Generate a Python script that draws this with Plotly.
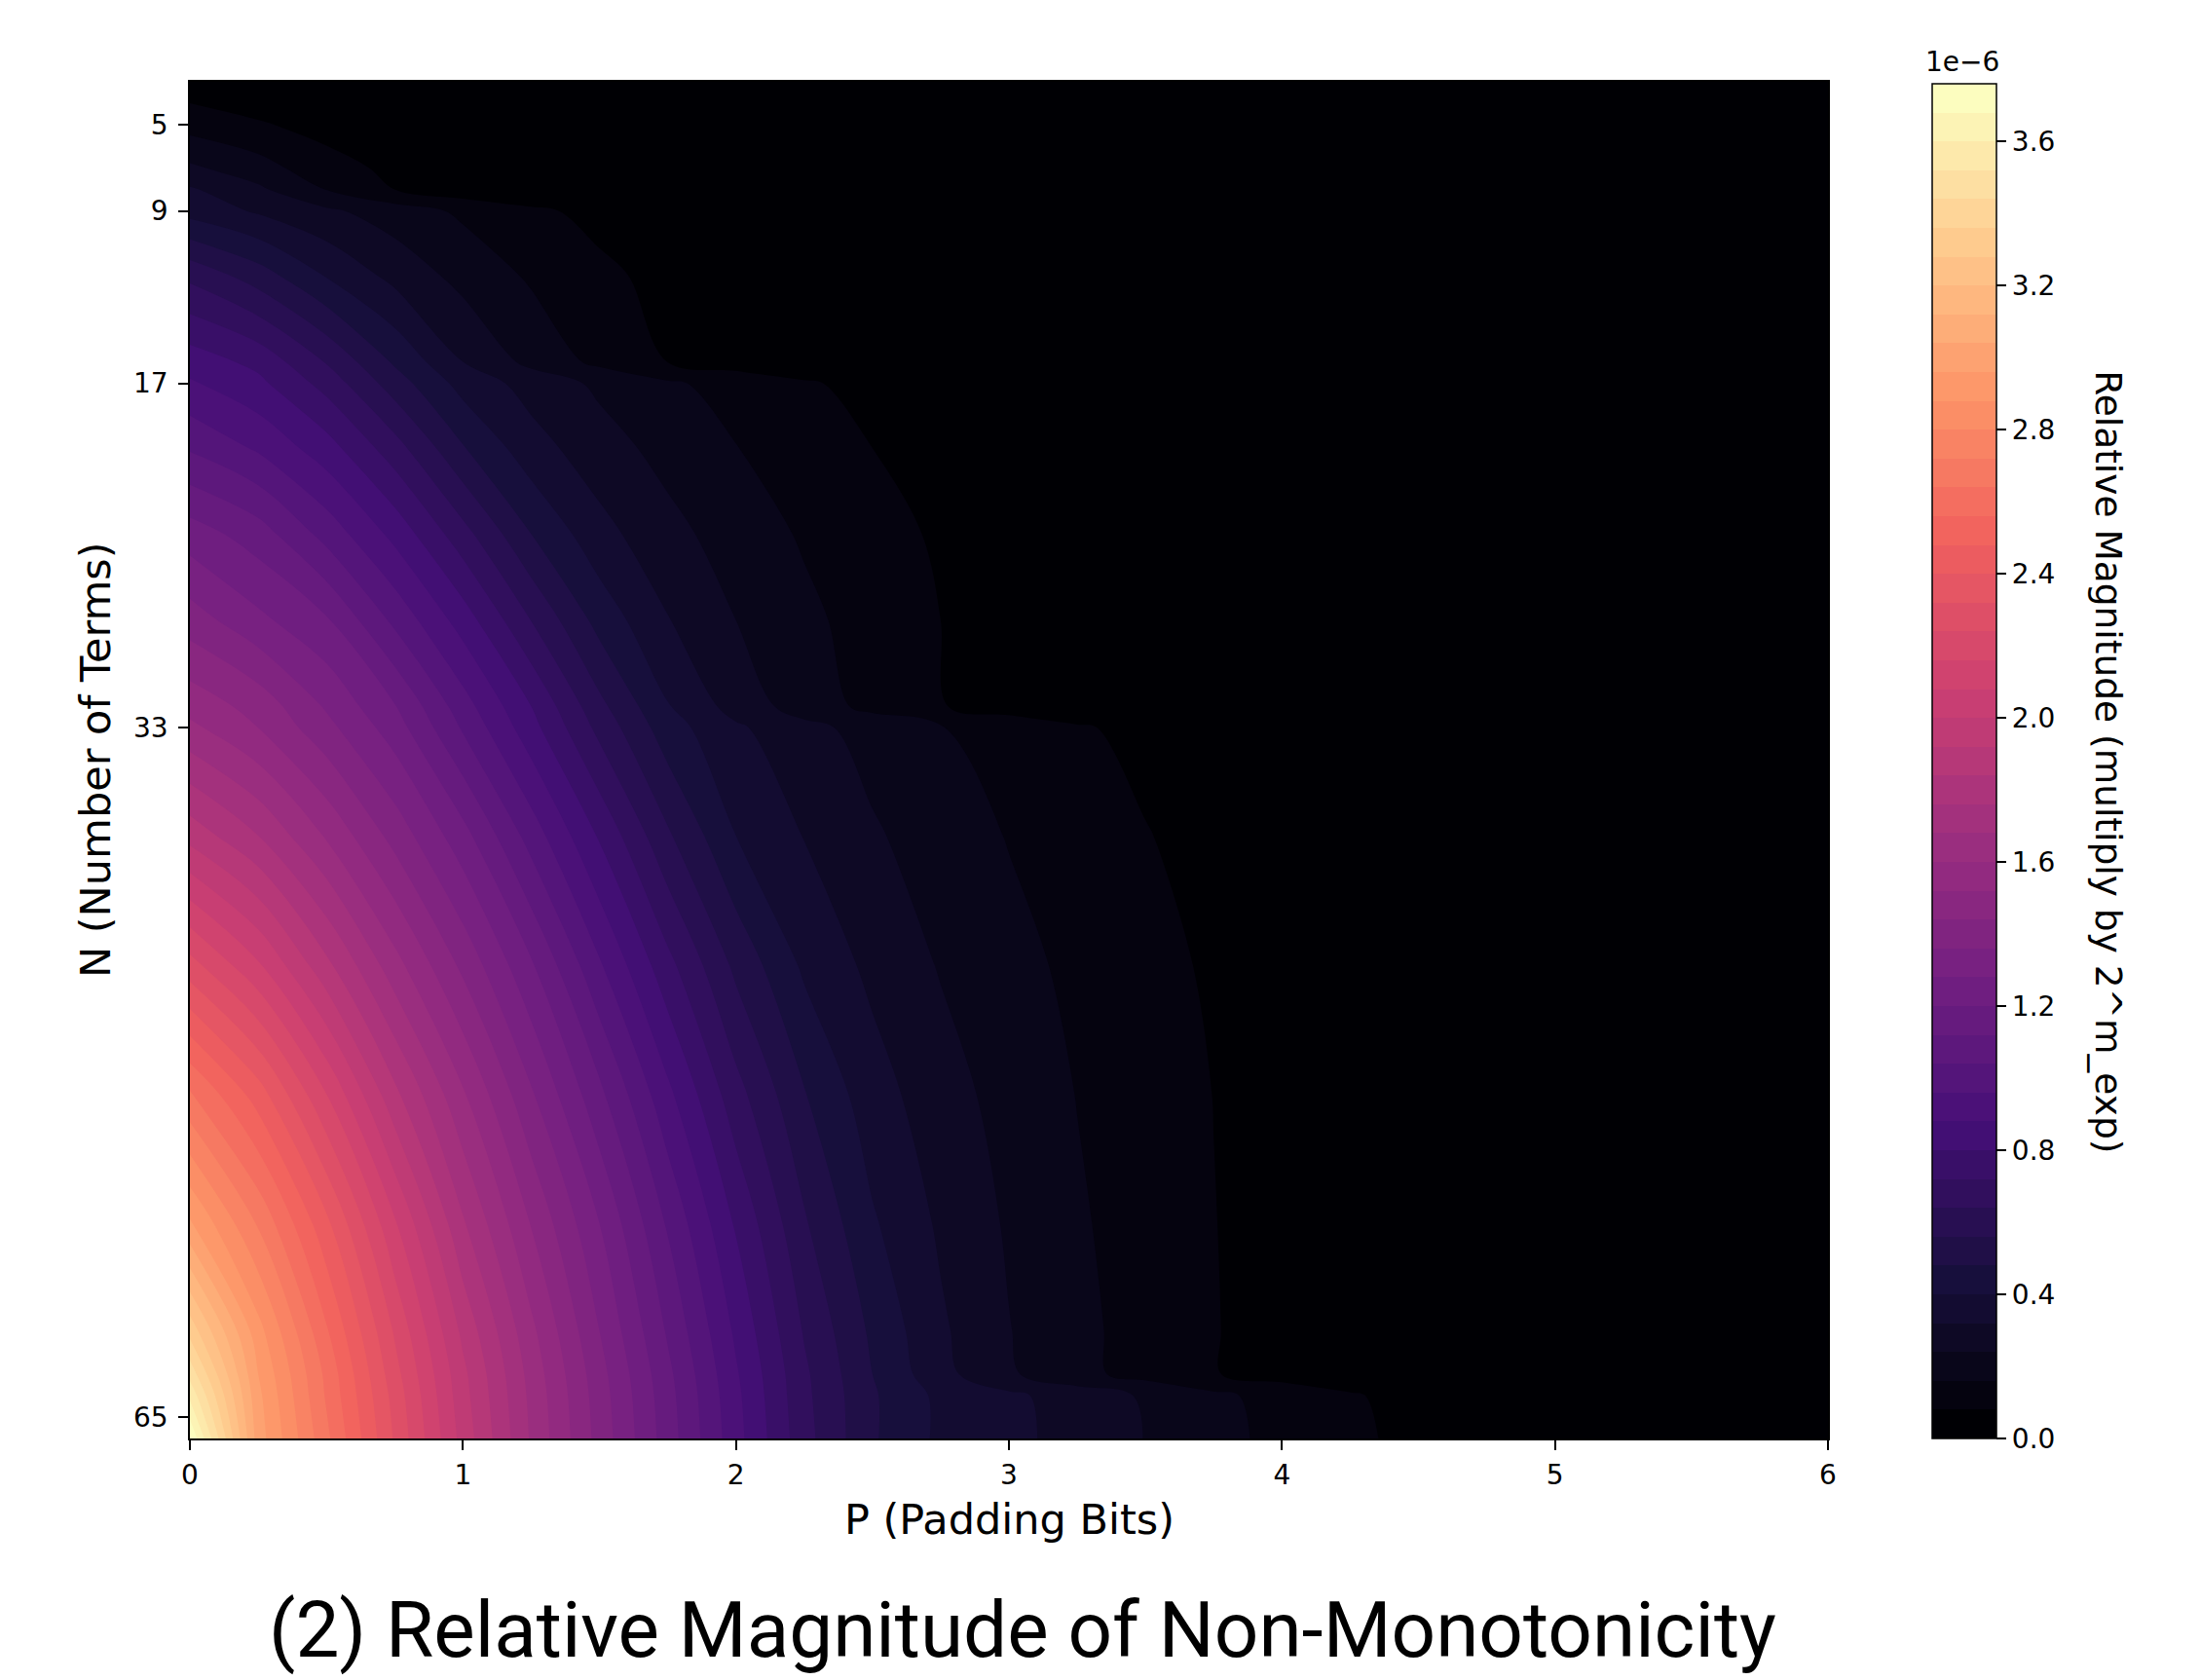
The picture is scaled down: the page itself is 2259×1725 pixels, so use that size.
import plotly.graph_objects as go
from plotly.colors import sample_colorscale
import numpy as np

# P (padding bits) grid
P_BITS = [0, 0.25, 0.5, 0.75, 1.0, 1.25, 1.5, 1.75, 2.0, 2.25, 2.5, 2.75,
          3.0, 3.25, 3.5, 3.75, 4.0, 4.25, 4.5, 5.0, 6.0]
# N (number of terms) grid
N_TERMS = [3, 5, 7, 8, 9, 12, 16, 17, 20, 24, 28, 32, 33, 38, 44, 50, 56, 61, 63, 64, 66]

# relative magnitude, in units of 1e-6 (one list per N, values follow P_BITS)
MAG_N3 = [0.03, 0.02, 0.012, 0.006, 0.003, 0.001, 0, 0, 0, 0, 0, 0, 0, 0, 0, 0, 0, 0, 0, 0, 0]
MAG_N5 = [0.13, 0.088, 0.055, 0.035, 0.02, 0.01, 0.005, 0.002, 0.001, 0, 0, 0, 0, 0, 0, 0, 0, 0, 0, 0, 0]
MAG_N7 = [0.254, 0.195, 0.107, 0.064, 0.03, 0.015, 0.007, 0.003, 0.001, 0, 0, 0, 0, 0, 0, 0, 0, 0, 0, 0, 0]
MAG_N8 = [0.33, 0.255, 0.158, 0.08, 0.03, 0.015, 0.007, 0.003, 0.001, 0, 0, 0, 0, 0, 0, 0, 0, 0, 0, 0, 0]
MAG_N9 = [0.37, 0.31, 0.255, 0.2, 0.146, 0.096, 0.057, 0.034, 0.018, 0.008, 0.003, 0.001, 0, 0, 0, 0, 0, 0, 0, 0, 0]
MAG_N12 = [0.62, 0.519, 0.394, 0.295, 0.213, 0.149, 0.097, 0.057, 0.034, 0.018, 0.008, 0.003, 0.001, 0, 0, 0, 0, 0, 0, 0, 0]
MAG_N16 = [0.844, 0.777, 0.634, 0.468, 0.32, 0.217, 0.14, 0.079, 0.043, 0.022, 0.01, 0.004, 0.001, 0, 0, 0, 0, 0, 0, 0, 0]
MAG_N17 = [0.89, 0.82, 0.69, 0.519, 0.37, 0.289, 0.224, 0.172, 0.13, 0.09, 0.054, 0.032, 0.017, 0.008, 0.003, 0.001, 0, 0, 0, 0, 0]
MAG_N20 = [1.03, 0.948, 0.835, 0.674, 0.486, 0.352, 0.274, 0.213, 0.162, 0.121, 0.08, 0.047, 0.025, 0.012, 0.005, 0.002, 0, 0, 0, 0, 0]
MAG_N24 = [1.24, 1.16, 1.01, 0.856, 0.67, 0.48, 0.347, 0.265, 0.203, 0.151, 0.109, 0.069, 0.038, 0.02, 0.01, 0.004, 0.002, 0, 0, 0, 0]
MAG_N28 = [1.40, 1.30, 1.21, 1.02, 0.843, 0.638, 0.45, 0.324, 0.24, 0.178, 0.127, 0.08, 0.044, 0.024, 0.012, 0.005, 0.002, 0.001, 0, 0, 0]
MAG_N32 = [1.57, 1.49, 1.35, 1.205, 0.995, 0.8, 0.582, 0.405, 0.288, 0.203, 0.138, 0.084, 0.047, 0.025, 0.012, 0.005, 0.002, 0.001, 0, 0, 0]
MAG_N33 = [1.62, 1.52, 1.385, 1.24, 1.03, 0.83, 0.616, 0.435, 0.333, 0.264, 0.21, 0.164, 0.127, 0.09, 0.056, 0.03, 0.018, 0.01, 0.005, 0.001, 0]
MAG_N38 = [1.89, 1.76, 1.59, 1.41, 1.23, 1.005, 0.79, 0.572, 0.40, 0.317, 0.25, 0.201, 0.156, 0.12, 0.084, 0.05, 0.03, 0.016, 0.008, 0.002, 0]
MAG_N44 = [2.27, 2.09, 1.86, 1.63, 1.42, 1.21, 0.97, 0.745, 0.54, 0.385, 0.30, 0.234, 0.185, 0.142, 0.105, 0.069, 0.038, 0.02, 0.01, 0.002, 0]
MAG_N50 = [2.65, 2.44, 2.16, 1.86, 1.61, 1.37, 1.14, 0.90, 0.67, 0.485, 0.354, 0.273, 0.21, 0.158, 0.118, 0.079, 0.043, 0.024, 0.012, 0.003, 0]
MAG_N56 = [2.97, 2.71, 2.42, 2.09, 1.77, 1.515, 1.28, 1.03, 0.79, 0.57, 0.41, 0.307, 0.23, 0.17, 0.124, 0.082, 0.046, 0.025, 0.012, 0.003, 0]
MAG_N61 = [3.33, 2.91, 2.57, 2.23, 1.90, 1.62, 1.36, 1.11, 0.865, 0.633, 0.464, 0.333, 0.243, 0.18, 0.129, 0.084, 0.047, 0.025, 0.012, 0.003, 0]
MAG_N63 = [3.49, 2.96, 2.62, 2.27, 1.94, 1.65, 1.39, 1.14, 0.89, 0.655, 0.48, 0.345, 0.251, 0.183, 0.13, 0.084, 0.047, 0.025, 0.012, 0.003, 0]
MAG_N64 = [3.58, 2.98, 2.63, 2.29, 1.95, 1.66, 1.40, 1.15, 0.90, 0.66, 0.49, 0.38, 0.336, 0.284, 0.23, 0.177, 0.131, 0.089, 0.048, 0.012, 0]
MAG_N66 = [3.76, 3.0, 2.66, 2.31, 1.97, 1.67, 1.41, 1.16, 0.91, 0.67, 0.49, 0.383, 0.34, 0.292, 0.238, 0.185, 0.138, 0.097, 0.056, 0.015, 0]

CBAR_TICKS = [0.0, 0.4, 0.8, 1.2, 1.6, 2.0, 2.4, 2.8, 3.2, 3.6]
X_TICKS = [0, 1, 2, 3, 4, 5, 6]
Y_TICKS = [5, 9, 17, 33, 65]
UNIT = 1e-6
LEVEL_STEP = 0.08
LEVEL_TOP = 3.76

rows = [MAG_N3, MAG_N5, MAG_N7, MAG_N8, MAG_N9, MAG_N12, MAG_N16, MAG_N17, MAG_N20,
        MAG_N24, MAG_N28, MAG_N32, MAG_N33, MAG_N38, MAG_N44, MAG_N50, MAG_N56,
        MAG_N61, MAG_N63, MAG_N64, MAG_N66]
Z = np.array(rows) * UNIT

# stepped magma colour scale: one flat colour per filled band (like contourf)
n_bands = int(round(LEVEL_TOP / LEVEL_STEP))  # 47 bands
band_cols = sample_colorscale("Magma", [i / (n_bands - 1) for i in range(n_bands)])
stepped = []
for i, c in enumerate(band_cols):
    stepped.append([i / n_bands, c])
    stepped.append([(i + 1) / n_bands, c])

W, H = 2259, 1725
L, R, T, B = 194.5, 1877, 83.6, 1477
PW, PH = R - L, B - T

def px(xp):
    return (xp - L) / PW

def py(yp):
    return (B - yp) / PH

TICK_FONT = dict(family="DejaVu Sans", size=28, color="black")
LABEL_FONT = dict(family="DejaVu Sans", size=43, color="black")

fig = go.Figure()
# filled contour (levels 0.08, 0.16, ... ; below first level -> darkest colour)
fig.add_trace(go.Contour(
    x=P_BITS, y=N_TERMS, z=Z,
    colorscale=stepped, showscale=False,
    contours=dict(start=LEVEL_STEP * UNIT, end=(LEVEL_TOP - LEVEL_STEP) * UNIT,
                  size=LEVEL_STEP * UNIT, coloring="fill", showlines=False),
    line=dict(width=0),
    hoverinfo="skip",
))
# colour bar carrier (no visible points) spanning the full 0 .. top range
fig.add_trace(go.Scatter(
    x=[None], y=[None], mode="markers",
    marker=dict(color=[0], coloraxis="coloraxis"),
    showlegend=False, hoverinfo="skip",
))

fig.update_xaxes(
    range=[0, 6], tickvals=X_TICKS, ticktext=[str(v) for v in X_TICKS],
    showline=True, linecolor="black", linewidth=1.5, mirror=True,
    ticks="outside", ticklen=10, tickwidth=1.5, tickcolor="black",
    tickfont=TICK_FONT, showgrid=False, zeroline=False, ticklabelstandoff=2,
)
fig.update_yaxes(
    range=[66, 3], tickvals=Y_TICKS, ticktext=[str(v) for v in Y_TICKS],
    showline=True, linecolor="black", linewidth=1.5, mirror=True,
    ticks="outside", ticklen=10, tickwidth=1.5, tickcolor="black",
    tickfont=TICK_FONT, showgrid=False, zeroline=False, ticklabelstandoff=5,
)

annotations = [
    dict(text="P (Padding Bits)", x=px(1036), y=py(1560), xref="paper", yref="paper",
         showarrow=False, xanchor="center", yanchor="middle", font=LABEL_FONT),
    dict(text="N (Number of Terms)", x=px(97), y=0.5, xref="paper", yref="paper",
         showarrow=False, xanchor="center", yanchor="middle", textangle=-90, font=LABEL_FONT),
    dict(text="Relative Magnitude (multiply by 2^m_exp)", x=px(2165), y=py(782),
         xref="paper", yref="paper", showarrow=False, xanchor="center", yanchor="middle",
         textangle=90, font=dict(family="DejaVu Sans", size=37.5, color="black")),
    dict(text="1e\u22126", x=px(2015), y=py(63), xref="paper", yref="paper",
         showarrow=False, xanchor="center", yanchor="middle", font=TICK_FONT),
    dict(text="(2) Relative Magnitude of Non-Monotonicity", x=px(1050), y=py(1674),
         xref="paper", yref="paper", showarrow=False, xanchor="center", yanchor="middle",
         font=dict(family="Roboto", size=80, color="black")),
]

fig.update_layout(
    width=W, height=H,
    margin=dict(l=L, r=W - R, t=T, b=H - B, pad=0),
    paper_bgcolor="white", plot_bgcolor="white",
    annotations=annotations,
    showlegend=False,
    coloraxis=dict(
        colorscale=stepped, cmin=0, cmax=LEVEL_TOP * UNIT, showscale=True,
        colorbar=dict(
            thickness=66, thicknessmode="pixels",
            len=1391, lenmode="pixels",
            x=px(1984), xanchor="left", xpad=0,
            y=0, yanchor="bottom", ypad=0,
            outlinewidth=1.5, outlinecolor="black",
            ticks="outside", ticklen=10, tickwidth=1.5, tickcolor="black",
            tickvals=[v * UNIT for v in CBAR_TICKS],
            ticktext=[f"{v:.1f}" for v in CBAR_TICKS],
            tickfont=TICK_FONT,
        ),
    ),
)

fig.write_html("out.html", config={"displayModeBar": False},
               post_script="document.body.style.margin='0px';document.body.style.padding='0px';")
